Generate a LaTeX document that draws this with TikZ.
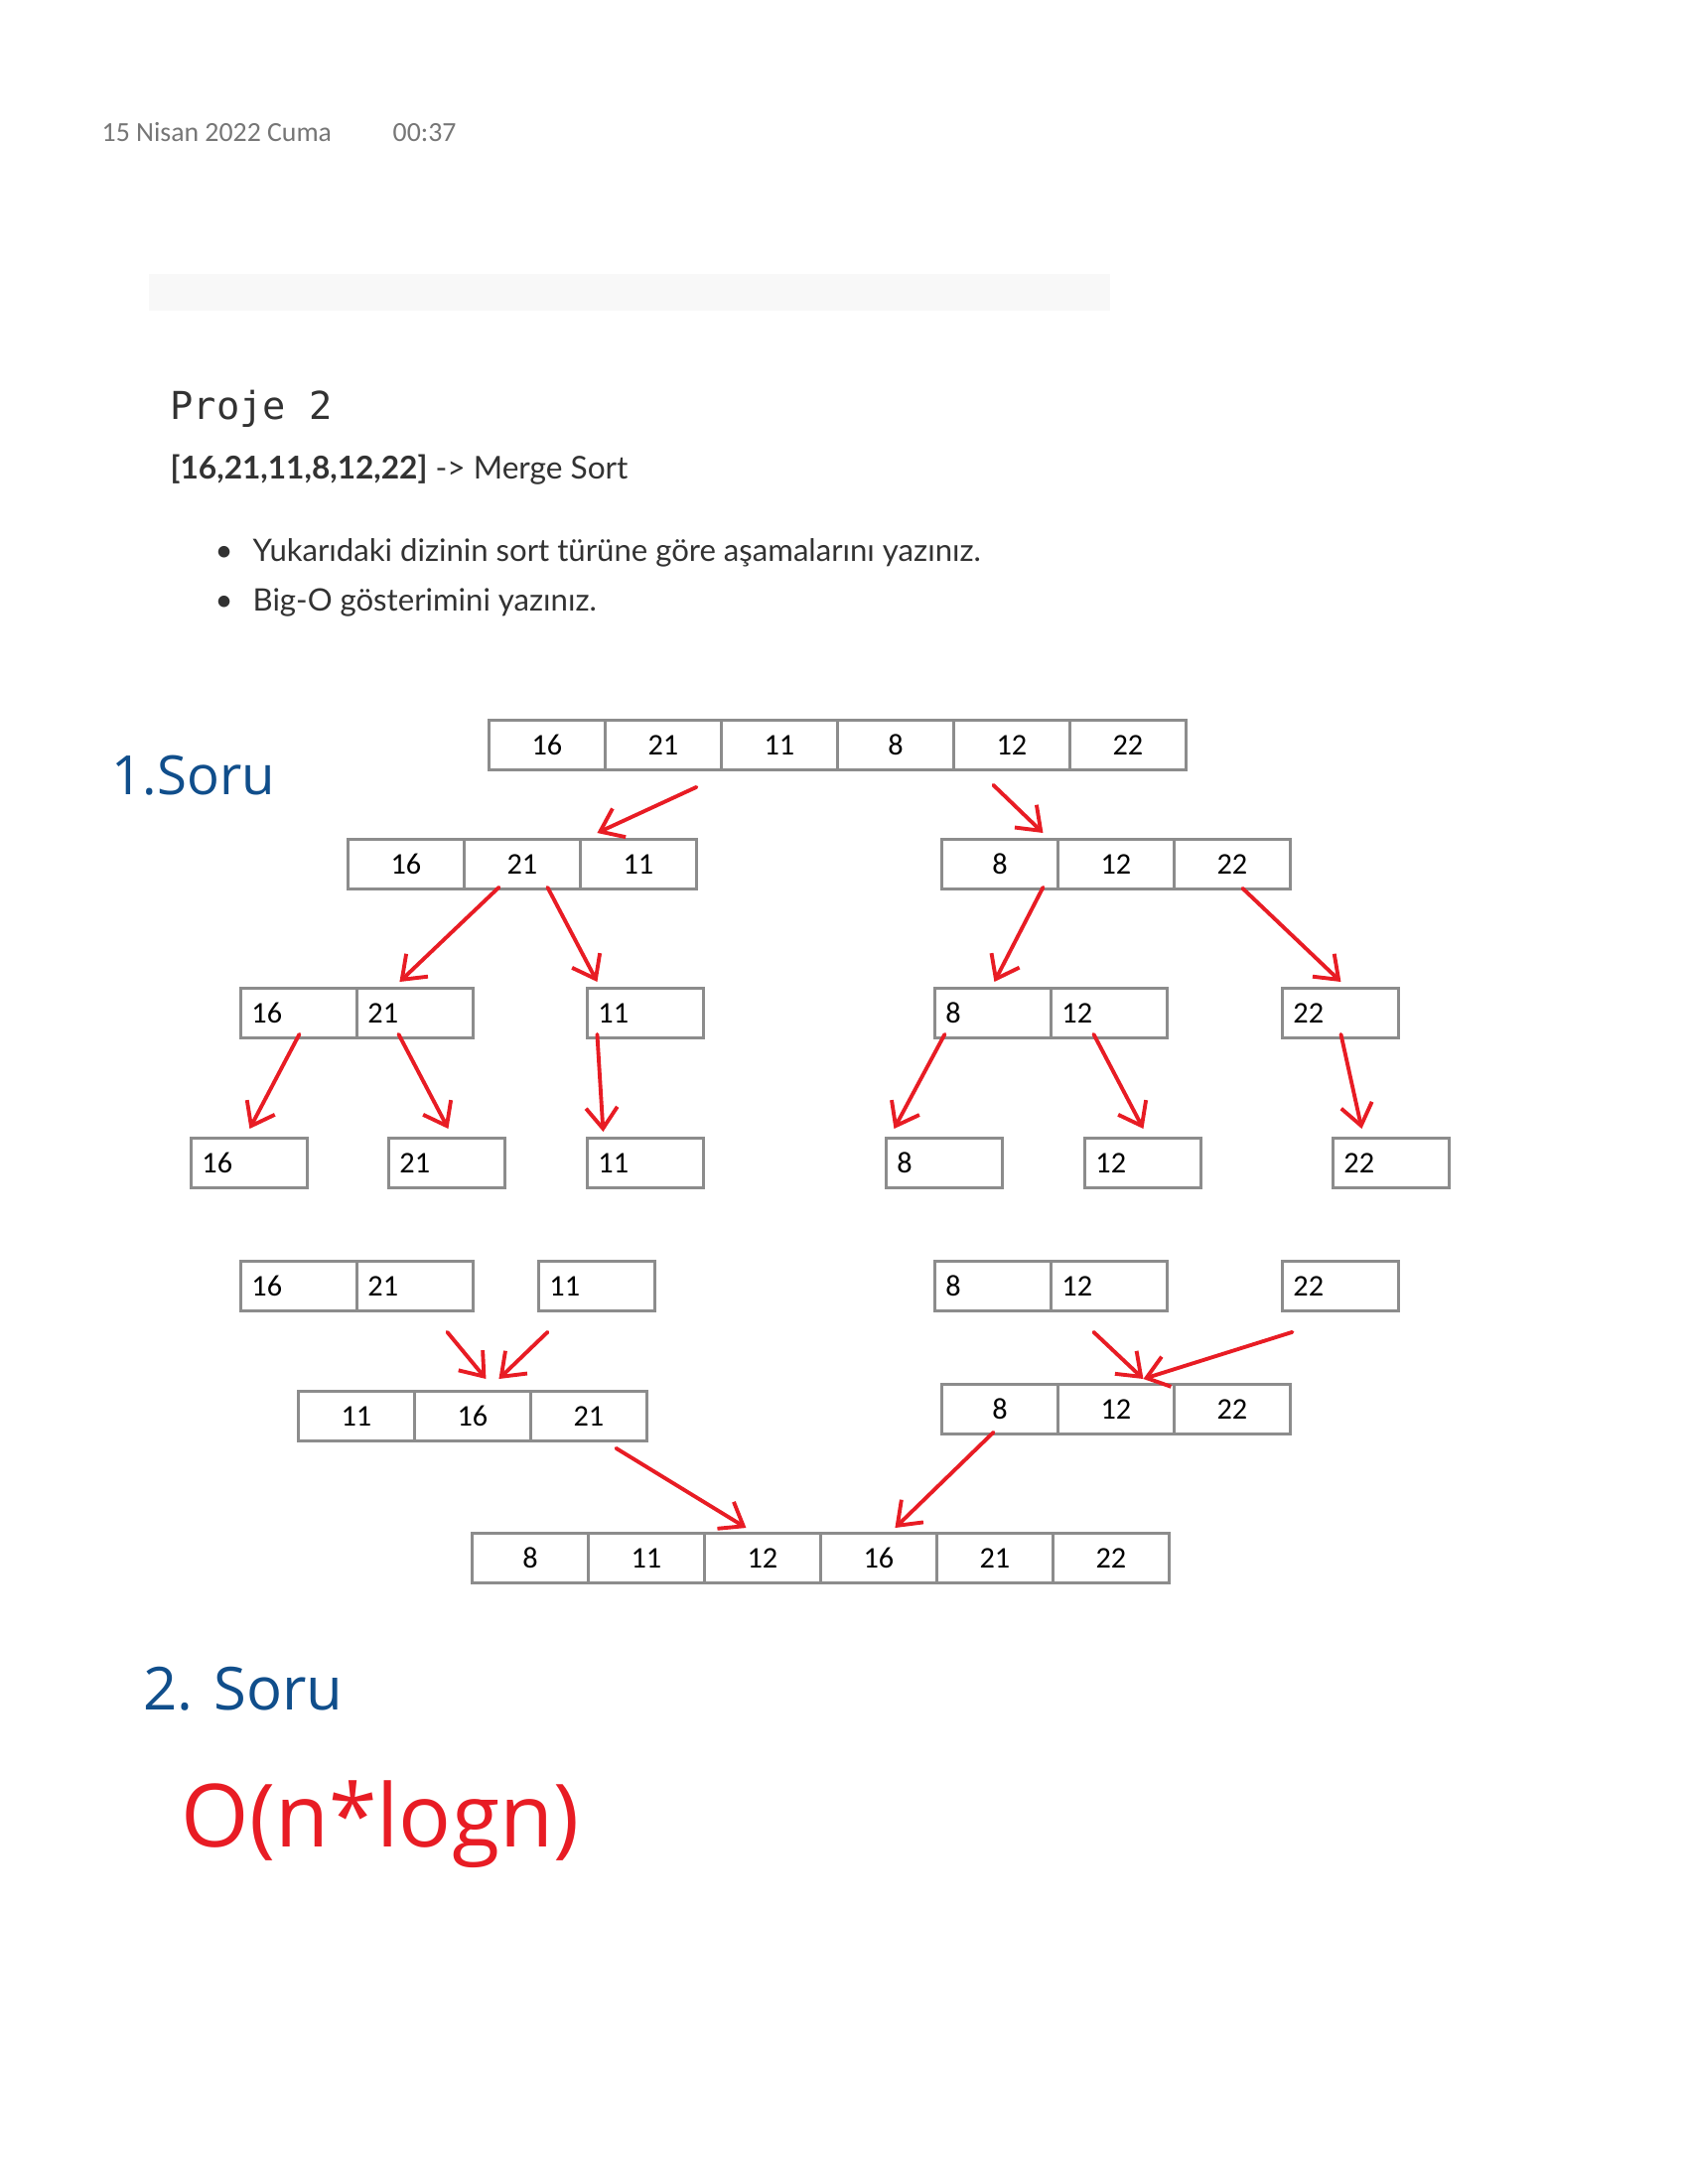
\documentclass[tikz,border=0pt]{standalone}
\usepackage{fontspec}
\setmainfont{Lato}
\newfontfamily\calfont{Carlito}
\newfontfamily\monofont{DejaVu Sans Mono}
\newfontfamily\handfont{Open Sans}
\usetikzlibrary{arrows.meta,calc}
\definecolor{boxgray}{RGB}{140,140,140}
\definecolor{inkred}{RGB}{232,28,36}
\definecolor{inkblue}{RGB}{16,78,139}
\definecolor{hdrgray}{RGB}{118,118,118}
\definecolor{barfill}{RGB}{248,248,248}
\definecolor{titlegray}{RGB}{50,50,50}
\begin{document}
\begin{tikzpicture}[x=0.01cm,y=-0.01cm,
  cell/.style={draw=boxgray, line width=0.8pt, minimum width=1.17cm, minimum height=0.5cm,
    inner sep=0pt, anchor=north west, font={\calfont\fontsize{8.6pt}{10pt}\selectfont}},
  lcell/.style={cell, text width=0.95cm, inner xsep=0.11cm, align=left},
  arr/.style={draw=inkred, line width=1.1pt, line cap=round,
    -{Straight Barb[length=6pt,width=9pt,line width=1.1pt]}},
  plain/.style={anchor=base west, inner sep=0pt},
  body/.style={plain, text=titlegray, font={\fontsize{8.85pt}{11pt}\selectfont}}
]
\useasboundingbox (0,0) rectangle (1700,2200);
\fill[white] (0,0) rectangle (1700,2200);
% header
\node[plain, text=hdrgray, font={\calfont\fontsize{7.9pt}{9pt}\selectfont}] (date) at (102,143) {15 Nisan 2022 Cuma};
\node[plain, text=hdrgray, font={\calfont\fontsize{7.9pt}{9pt}\selectfont}] (time) at (395,143) {00:37};
\fill[barfill] (150,276) rectangle (1118,313);
% title
\node[plain, text=titlegray, font={\monofont\fontsize{11pt}{14pt}\selectfont}] (title) at (171,422) {Proje 2};
\node[plain, text=titlegray, font={\fontsize{9pt}{11pt}\selectfont}] (task) at (171,482) {\textbf{[16,21,11,8,12,22]} -> Merge Sort};
\node[body] (bul1) at (216,565) {•};
\node[body] (item1) at (254,565) {Yukarıdaki dizinin sort türüne göre aşamalarını yazınız.};
\node[body] (bul2) at (216,615) {•};
\node[body] (item2) at (254,615) {Big-O gösterimini yazınız.};
% handwriting
\node[plain, text=inkblue, font={\handfont\fontsize{15.5pt}{18pt}\selectfont}] (q1) at (112,800) {1.Soru};
\node[plain, text=inkblue, font={\handfont\fontsize{17pt}{20pt}\selectfont}] (q2) at (144,1722) {2. Soru};
\node[plain, text=inkred, font={\handfont\fontsize{25pt}{30pt}\selectfont}] (ans) at (182,1860) {O(n*logn)};
% row 1
\node[cell] (t1) at (491,724) {16};
\node[cell] (t2) at (608,724) {21};
\node[cell] (t3) at (725,724) {11};
\node[cell] (t4) at (842,724) {8};
\node[cell] (t5) at (959,724) {12};
\node[cell] (t6) at (1076,724) {22};
% row 2
\node[cell] (a1) at (349,844) {16};
\node[cell] (a2) at (466,844) {21};
\node[cell] (a3) at (583,844) {11};
\node[cell] (b1) at (947,844) {8};
\node[cell] (b2) at (1064,844) {12};
\node[cell] (b3) at (1181,844) {22};
% row 3
\node[lcell] (c1) at (241,994) {16};
\node[lcell] (c2) at (358,994) {21};
\node[lcell] (c3) at (590,994) {11};
\node[lcell] (d1) at (940,994) {8};
\node[lcell] (d2) at (1057,994) {12};
\node[lcell] (d3) at (1290,994) {22};
% row 4
\node[lcell] (e1) at (191,1145) {16};
\node[lcell] (e2) at (390,1145) {21};
\node[lcell] (e3) at (590,1145) {11};
\node[lcell] (e4) at (891,1145) {8};
\node[lcell] (e5) at (1091,1145) {12};
\node[lcell] (e6) at (1341,1145) {22};
% row 5
\node[lcell] (f1) at (241,1269) {16};
\node[lcell] (f2) at (358,1269) {21};
\node[lcell] (f3) at (541,1269) {11};
\node[lcell] (g1) at (940,1269) {8};
\node[lcell] (g2) at (1057,1269) {12};
\node[lcell] (g3) at (1290,1269) {22};
% row 6
\node[cell] (h1) at (299,1400) {11};
\node[cell] (h2) at (416,1400) {16};
\node[cell] (h3) at (533,1400) {21};
\node[cell] (k1) at (947,1393) {8};
\node[cell] (k2) at (1064,1393) {12};
\node[cell] (k3) at (1181,1393) {22};
% row 7
\node[cell] (m1) at (474,1543) {8};
\node[cell] (m2) at (591,1543) {11};
\node[cell] (m3) at (708,1543) {12};
\node[cell] (m4) at (825,1543) {16};
\node[cell] (m5) at (942,1543) {21};
\node[cell] (m6) at (1059,1543) {22};
% arrows
\draw[arr] ($(t2.south)+(33.5,16)$) -- ($(a3.north)+(-41.5,-5)$);
\draw[arr] ($(t5.south)+(-18.5,14)$) -- ($(b1.north)+(43.5,-5)$);
\draw[arr] ($(a2.south)+(-23.5,-3)$) -- ($(c2.north)+(-15.5,-5)$);
\draw[arr] ($(a2.south)+(25.5,-3)$) -- ($(c3.north)+(-48.5,-5)$);
\draw[arr] ($(b1.south)+(43.5,-3)$) -- ($(d1.north)+(1.5,-5)$);
\draw[arr] ($(b3.south)+(10.5,-2)$) -- ($(d3.north)+(0.5,-5)$);
\draw[arr] ($(c1.south)+(0.5,-5)$) -- ($(e1.north)+(0.5,-8)$);
\draw[arr] ($(c2.south)+(-16.5,-5)$) -- ($(e2.north)+(1.5,-8)$);
\draw[arr] ($(c3.south)+(-48.5,-5)$) -- ($(e3.north)+(-42.5,-5)$);
\draw[arr] ($(d1.south)+(-48.5,-5)$) -- ($(e4.north)+(-50.5,-8)$);
\draw[arr] ($(d2.south)+(-15.5,-5)$) -- ($(e5.north)+(0.5,-8)$);
\draw[arr] ($(d3.south)+(0.5,-5)$) -- ($(e6.north)+(-29.5,-8)$);
\draw[arr] ($(f2.south)+(32.5,20)$) -- ($(h2.north)+(13.5,-11)$);
\draw[arr] ($(f3.south)+(-49.5,20)$) -- ($(h2.north)+(26.5,-11)$);
\draw[arr] ($(g2.south)+(-15.5,20)$) -- ($(k2.north)+(27.5,-4)$);
\draw[arr] ($(g3.south)+(-48.5,20)$) -- ($(k2.north)+(27.5,-4)$);
\draw[arr] ($(h3.south)+(27.5,6)$) -- ($(m3.north)+(-16.5,-4)$);
\draw[arr] ($(k1.south)+(-6.5,-3)$) -- ($(m4.north)+(16.5,-4)$);
\end{tikzpicture}
\end{document}
